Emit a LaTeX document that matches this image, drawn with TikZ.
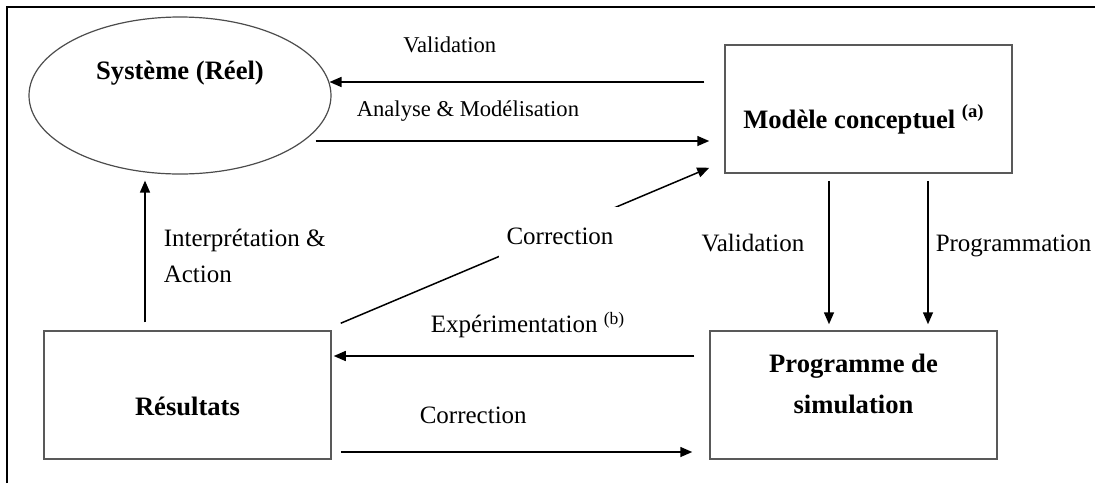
\documentclass[tikz,border=0pt]{standalone}
\usepackage{fontspec}
\setmainfont{Liberation Serif}
\usetikzlibrary{positioning}
\usetikzlibrary{arrows.meta}
\usetikzlibrary{shapes.geometric}
\tikzset{simbox/.style={rectangle,draw=black!65,line width=0.75pt,fill=white,
inner sep=0pt,minimum height=64pt, minimum width=143.5pt}}
\tikzset{simellipse/.style={ellipse,draw=black!70,line width=0.6pt,
inner sep=0pt,minimum height=78.5pt, minimum width=151pt}}
\tikzset{simtitle/.style={inner sep=0pt,font=\fontsize{13.3}{20.5}\selectfont\bfseries}}
\tikzset{simstep/.style={rectangle,draw=none,inner sep=0pt,
font=\fontsize{12.5}{18}\selectfont, text height=1.5ex, text depth=.25ex}}
\tikzset{simtop/.style={simstep,font=\fontsize{11.3}{18}\selectfont}}
\tikzset{simnote/.style={rectangle,draw=none,inner sep=0pt,
font=\fontsize{12.5}{18}\selectfont, align=left}}
\tikzset{simarrow/.style={line width=0.75pt,-{Triangle[length=6pt,width=5pt]}}}

\begin{document}
\begin{tikzpicture}[x=0.5pt,y=-0.5pt]

    \useasboundingbox (0,0) rectangle (1097,483);
    \draw[line width=1pt] (7,483) -- (7,7) -- (1095,7);

    \node[simellipse] (sysReel) at (180,95.5) {};
    \node[simbox] (boxModele) at (868.5,109) {};
    \node[simbox] (boxProg) at (853.5,395) {};
    \node[simbox] (boxRes) at (187.5,395) {};

    \node[simtitle, anchor=base] (sysReelTxt) at ([yshift=8.25pt]sysReel.center) {Système (Réel)};
    \node[simtitle, anchor=base] (boxModeleTxt) at ([xshift=-2.25pt,yshift=-9.5pt]boxModele.center) {Modèle conceptuel \textsuperscript{(a)}};
    \node[simtitle, align=center] (boxProgTxt) at ([yshift=5.65pt]boxProg.center) {Programme de\\simulation};
    \node[simtitle, anchor=base] (boxResTxt) at ([yshift=-10pt]boxRes.center) {Résultats};

    \coordinate (valR) at ([xshift=-10pt,yshift=13.5pt]boxModele.west);
    \draw[simarrow] (valR) --node[simtop, pos=0.679, above=13pt] (valTop) {Validation} (valR -| sysReel.5);

    \coordinate (anaR) at ([xshift=-7.5pt,yshift=-16pt]boxModele.west);
    \draw[simarrow] ([xshift=-8pt]anaR -| sysReel.east) --node[simtop, pos=0.387, above=10.7pt] (anaTop) {Analyse \& Modélisation} (anaR);

    \coordinate (valT) at ([xshift=-19.75pt,yshift=-3.5pt]boxModele.south);
    \coordinate (progT) at ([xshift=29.75pt,yshift=-3.5pt]boxModele.south);
    \draw[simarrow] (valT) --node[simstep, pos=0.455, left=12pt] (valMid) {Validation} ([yshift=3pt]valT |- boxProg.north);
    \draw[simarrow] (progT) --node[simstep, pos=0.455, right=3.5pt] (progMid) {Programmation} ([yshift=3pt]progT |- boxProg.north);

    \coordinate (expR) at ([xshift=-7.5pt,yshift=19.5pt]boxProg.west);
    \draw[simarrow] (expR) --node[simstep, pos=0.461, above=10pt] (expMid) {Expérimentation \textsuperscript{(b)}} ([xshift=1pt]expR -| boxRes.east);

    \coordinate (corL) at ([xshift=4.5pt,yshift=-28.5pt]boxRes.east);
    \draw[simarrow] (corL) --node[simstep, pos=0.377, above=12.5pt] (corBot) {Correction} ([xshift=-8.5pt]corL -| boxProg.west);

    \coordinate (intB) at ([xshift=-21.25pt,yshift=4pt]boxRes.north);
    \draw[simarrow] (intB) --node[simnote, pos=0.465, right=9pt] (intMid) {Interprétation \&\\Action} ([yshift=-3pt]intB |- sysReel.south);

    \coordinate (corA) at ([xshift=4.5pt,yshift=3.5pt]boxRes.north east);
    \coordinate (corB) at ([xshift=-7.5pt,yshift=3pt]boxModele.south west);
    \draw[simarrow] (corA) --node[simstep, fill=white, inner xsep=4pt, inner ysep=12pt, pos=0.595, yshift=-3.9pt] (corDiag) {Correction} (corB);

\end{tikzpicture}
\end{document}
